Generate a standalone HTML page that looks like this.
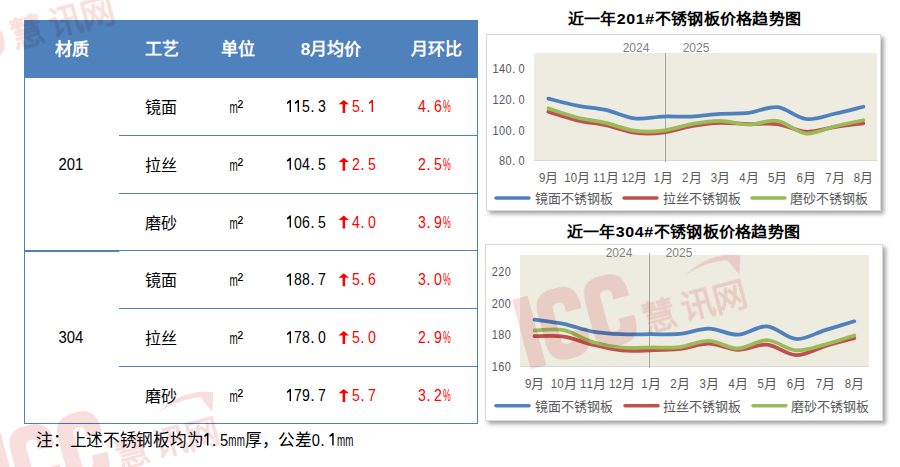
<!DOCTYPE html>
<html lang="zh-CN"><head><meta charset="utf-8">
<style>
html,body{margin:0;padding:0;background:#fff;}
body{width:900px;height:467px;overflow:hidden;position:relative;font-family:"Liberation Sans",sans-serif;color:#000;}
.a{position:absolute;left:0;top:0;}
.hd{position:absolute;left:24px;top:20px;width:454px;height:58px;background:#4f81bd;}
.ln{position:absolute;background:#4f81bd;}
.ht{position:absolute;top:39px;height:22px;line-height:22px;font-size:17px;font-weight:bold;color:#fff;text-align:center;white-space:nowrap;}
.chart{position:absolute;background:#fff;border:1px solid #d9d9d9;box-shadow:3px 3px 4px rgba(0,0,0,0.35);}
svg text{font-family:"Liberation Sans",sans-serif;}
</style></head><body>
<div class="hd"></div>
<div class="ln" style="left:24px;top:78px;width:1px;height:346px"></div>
<div class="ln" style="left:477px;top:78px;width:1px;height:346px"></div>
<div class="ln" style="left:24px;top:423px;width:454px;height:1px"></div>
<div class="ln" style="left:119px;top:135px;width:359px;height:1px"></div>
<div class="ln" style="left:119px;top:193px;width:359px;height:1px"></div>
<div class="ln" style="left:24px;top:250px;width:454px;height:1px"></div>
<div class="ln" style="left:24px;top:251px;width:95px;height:1px"></div>
<div class="ln" style="left:119px;top:308px;width:359px;height:1px"></div>
<div class="ln" style="left:119px;top:366px;width:359px;height:1px"></div>
<div class="ht" style="left:32px;width:80px">材质</div>
<div class="ht" style="left:122px;width:80px">工艺</div>
<div class="ht" style="left:198px;width:80px">单位</div>
<div class="ht" style="left:281px;width:100px">8月均价</div>
<div class="ht" style="left:386px;width:100px">月环比</div>

<div class="chart" style="left:486px;top:34px;width:393px;height:175px"></div>
<div class="chart" style="left:485px;top:244px;width:396px;height:175px"></div>

<svg class="a" style="position:absolute" width="900" height="467" viewBox="0 0 900 467">
<g fill="#000"><g fill="#000"><path d="M289.70,100.00 L291.00,100.00 L291.00,112.00 L289.60,112.00 L289.60,102.60 L287.10,103.90 L286.90,102.50 Z"/><path d="M297.70,100.00 L299.00,100.00 L299.00,112.00 L297.60,112.00 L297.60,102.60 L295.10,103.90 L294.90,102.50 Z"/><text transform="translate(302.09,112.00) scale(0.880,1)" font-size="16.00">5</text><text x="310.20" y="112.00" font-size="16.00">.</text><text transform="translate(318.09,112.00) scale(0.880,1)" font-size="16.00">3</text></g><path fill="#f00" d="M343.80,99.90 L348.90,104.30 L345.10,104.30 L345.10,112.90 L342.60,112.90 L342.60,104.30 L338.50,104.30 Z"/><g fill="#f00"><text transform="translate(352.09,112.00) scale(0.880,1)" font-size="16.00">5</text><text x="360.20" y="112.00" font-size="16.00">.</text><path d="M371.70,100.00 L373.00,100.00 L373.00,112.00 L371.60,112.00 L371.60,102.60 L369.10,103.90 L368.90,102.50 Z"/></g><g fill="#f00"><text transform="translate(418.09,112.00) scale(0.880,1)" font-size="16.00">4</text><text x="426.20" y="112.00" font-size="16.00">.</text><text transform="translate(434.09,112.00) scale(0.880,1)" font-size="16.00">6</text><text transform="translate(442.90,112.00) scale(0.551,1)" font-size="16.00">%</text></g><text x="145" y="113.00" font-size="16" font-weight="500">镜面</text><text transform="translate(229.4,113.00) scale(0.62,1)" font-size="16">m</text><text x="237.6" y="113.00" font-size="17">²</text><g fill="#000"><path d="M289.70,157.80 L291.00,157.80 L291.00,169.80 L289.60,169.80 L289.60,160.40 L287.10,161.70 L286.90,160.30 Z"/><text transform="translate(294.09,169.80) scale(0.880,1)" font-size="16.00">0</text><text transform="translate(302.09,169.80) scale(0.880,1)" font-size="16.00">4</text><text x="310.20" y="169.80" font-size="16.00">.</text><text transform="translate(318.09,169.80) scale(0.880,1)" font-size="16.00">5</text></g><path fill="#f00" d="M343.80,157.70 L348.90,162.10 L345.10,162.10 L345.10,170.70 L342.60,170.70 L342.60,162.10 L338.50,162.10 Z"/><g fill="#f00"><text transform="translate(352.09,169.80) scale(0.880,1)" font-size="16.00">2</text><text x="360.20" y="169.80" font-size="16.00">.</text><text transform="translate(368.09,169.80) scale(0.880,1)" font-size="16.00">5</text></g><g fill="#f00"><text transform="translate(418.09,169.80) scale(0.880,1)" font-size="16.00">2</text><text x="426.20" y="169.80" font-size="16.00">.</text><text transform="translate(434.09,169.80) scale(0.880,1)" font-size="16.00">5</text><text transform="translate(442.90,169.80) scale(0.551,1)" font-size="16.00">%</text></g><text x="145" y="170.80" font-size="16" font-weight="500">拉丝</text><text transform="translate(229.4,170.80) scale(0.62,1)" font-size="16">m</text><text x="237.6" y="170.80" font-size="17">²</text><g fill="#000"><path d="M289.70,215.60 L291.00,215.60 L291.00,227.60 L289.60,227.60 L289.60,218.20 L287.10,219.50 L286.90,218.10 Z"/><text transform="translate(294.09,227.60) scale(0.880,1)" font-size="16.00">0</text><text transform="translate(302.09,227.60) scale(0.880,1)" font-size="16.00">6</text><text x="310.20" y="227.60" font-size="16.00">.</text><text transform="translate(318.09,227.60) scale(0.880,1)" font-size="16.00">5</text></g><path fill="#f00" d="M343.80,215.50 L348.90,219.90 L345.10,219.90 L345.10,228.50 L342.60,228.50 L342.60,219.90 L338.50,219.90 Z"/><g fill="#f00"><text transform="translate(352.09,227.60) scale(0.880,1)" font-size="16.00">4</text><text x="360.20" y="227.60" font-size="16.00">.</text><text transform="translate(368.09,227.60) scale(0.880,1)" font-size="16.00">0</text></g><g fill="#f00"><text transform="translate(418.09,227.60) scale(0.880,1)" font-size="16.00">3</text><text x="426.20" y="227.60" font-size="16.00">.</text><text transform="translate(434.09,227.60) scale(0.880,1)" font-size="16.00">9</text><text transform="translate(442.90,227.60) scale(0.551,1)" font-size="16.00">%</text></g><text x="145" y="228.60" font-size="16" font-weight="500">磨砂</text><text transform="translate(229.4,228.60) scale(0.62,1)" font-size="16">m</text><text x="237.6" y="228.60" font-size="17">²</text><g fill="#000"><path d="M289.70,273.40 L291.00,273.40 L291.00,285.40 L289.60,285.40 L289.60,276.00 L287.10,277.30 L286.90,275.90 Z"/><text transform="translate(294.09,285.40) scale(0.880,1)" font-size="16.00">8</text><text transform="translate(302.09,285.40) scale(0.880,1)" font-size="16.00">8</text><text x="310.20" y="285.40" font-size="16.00">.</text><text transform="translate(318.09,285.40) scale(0.880,1)" font-size="16.00">7</text></g><path fill="#f00" d="M343.80,273.30 L348.90,277.70 L345.10,277.70 L345.10,286.30 L342.60,286.30 L342.60,277.70 L338.50,277.70 Z"/><g fill="#f00"><text transform="translate(352.09,285.40) scale(0.880,1)" font-size="16.00">5</text><text x="360.20" y="285.40" font-size="16.00">.</text><text transform="translate(368.09,285.40) scale(0.880,1)" font-size="16.00">6</text></g><g fill="#f00"><text transform="translate(418.09,285.40) scale(0.880,1)" font-size="16.00">3</text><text x="426.20" y="285.40" font-size="16.00">.</text><text transform="translate(434.09,285.40) scale(0.880,1)" font-size="16.00">0</text><text transform="translate(442.90,285.40) scale(0.551,1)" font-size="16.00">%</text></g><text x="145" y="286.40" font-size="16" font-weight="500">镜面</text><text transform="translate(229.4,286.40) scale(0.62,1)" font-size="16">m</text><text x="237.6" y="286.40" font-size="17">²</text><g fill="#000"><path d="M289.70,331.20 L291.00,331.20 L291.00,343.20 L289.60,343.20 L289.60,333.80 L287.10,335.10 L286.90,333.70 Z"/><text transform="translate(294.09,343.20) scale(0.880,1)" font-size="16.00">7</text><text transform="translate(302.09,343.20) scale(0.880,1)" font-size="16.00">8</text><text x="310.20" y="343.20" font-size="16.00">.</text><text transform="translate(318.09,343.20) scale(0.880,1)" font-size="16.00">0</text></g><path fill="#f00" d="M343.80,331.10 L348.90,335.50 L345.10,335.50 L345.10,344.10 L342.60,344.10 L342.60,335.50 L338.50,335.50 Z"/><g fill="#f00"><text transform="translate(352.09,343.20) scale(0.880,1)" font-size="16.00">5</text><text x="360.20" y="343.20" font-size="16.00">.</text><text transform="translate(368.09,343.20) scale(0.880,1)" font-size="16.00">0</text></g><g fill="#f00"><text transform="translate(418.09,343.20) scale(0.880,1)" font-size="16.00">2</text><text x="426.20" y="343.20" font-size="16.00">.</text><text transform="translate(434.09,343.20) scale(0.880,1)" font-size="16.00">9</text><text transform="translate(442.90,343.20) scale(0.551,1)" font-size="16.00">%</text></g><text x="145" y="344.20" font-size="16" font-weight="500">拉丝</text><text transform="translate(229.4,344.20) scale(0.62,1)" font-size="16">m</text><text x="237.6" y="344.20" font-size="17">²</text><g fill="#000"><path d="M289.70,389.00 L291.00,389.00 L291.00,401.00 L289.60,401.00 L289.60,391.60 L287.10,392.90 L286.90,391.50 Z"/><text transform="translate(294.09,401.00) scale(0.880,1)" font-size="16.00">7</text><text transform="translate(302.09,401.00) scale(0.880,1)" font-size="16.00">9</text><text x="310.20" y="401.00" font-size="16.00">.</text><text transform="translate(318.09,401.00) scale(0.880,1)" font-size="16.00">7</text></g><path fill="#f00" d="M343.80,388.90 L348.90,393.30 L345.10,393.30 L345.10,401.90 L342.60,401.90 L342.60,393.30 L338.50,393.30 Z"/><g fill="#f00"><text transform="translate(352.09,401.00) scale(0.880,1)" font-size="16.00">5</text><text x="360.20" y="401.00" font-size="16.00">.</text><text transform="translate(368.09,401.00) scale(0.880,1)" font-size="16.00">7</text></g><g fill="#f00"><text transform="translate(418.09,401.00) scale(0.880,1)" font-size="16.00">3</text><text x="426.20" y="401.00" font-size="16.00">.</text><text transform="translate(434.09,401.00) scale(0.880,1)" font-size="16.00">2</text><text transform="translate(442.90,401.00) scale(0.551,1)" font-size="16.00">%</text></g><text x="145" y="402.00" font-size="16" font-weight="500">磨砂</text><text transform="translate(229.4,402.00) scale(0.62,1)" font-size="16">m</text><text x="237.6" y="402.00" font-size="17">²</text><text transform="translate(58.6,170) scale(0.9,1)" font-size="16.5">201</text><text transform="translate(58.6,343) scale(0.9,1)" font-size="16.5">304</text></g>
<g fill="#000"><text x="36.20" y="446.00" font-size="16.7" font-weight="500">注</text><text x="52.90" y="446.00" font-size="16.7" font-weight="500">：</text><text x="69.60" y="446.00" font-size="16.7" font-weight="500">上</text><text x="86.30" y="446.00" font-size="16.7" font-weight="500">述</text><text x="103.00" y="446.00" font-size="16.7" font-weight="500">不</text><text x="119.70" y="446.00" font-size="16.7" font-weight="500">锈</text><text x="136.40" y="446.00" font-size="16.7" font-weight="500">钢</text><text x="153.10" y="446.00" font-size="16.7" font-weight="500">板</text><text x="169.80" y="446.00" font-size="16.7" font-weight="500">均</text><text x="186.50" y="446.00" font-size="16.7" font-weight="500">为</text><g fill="#000"><path d="M207.06,432.98 L208.42,432.98 L208.42,445.50 L206.96,445.50 L206.96,435.69 L204.35,437.05 L204.14,435.58 Z"/><text x="211.75" y="445.50" font-size="16.70">.</text><text transform="translate(219.99,445.50) scale(0.880,1)" font-size="16.70">5</text><text transform="translate(228.35,445.50) scale(0.588,1)" font-size="16.70">m</text><text transform="translate(236.70,445.50) scale(0.588,1)" font-size="16.70">m</text></g><text x="244.95" y="446.00" font-size="16.7" font-weight="500">厚</text><text x="261.65" y="446.00" font-size="16.7" font-weight="500">，</text><text x="278.35" y="446.00" font-size="16.7" font-weight="500">公</text><text x="295.05" y="446.00" font-size="16.7" font-weight="500">差</text><g fill="#000"><text transform="translate(311.84,445.50) scale(0.880,1)" font-size="16.70">0</text><text x="320.30" y="445.50" font-size="16.70">.</text><path d="M332.31,432.98 L333.67,432.98 L333.67,445.50 L332.21,445.50 L332.21,435.69 L329.60,437.05 L329.39,435.58 Z"/><text transform="translate(336.90,445.50) scale(0.588,1)" font-size="16.70">m</text><text transform="translate(345.25,445.50) scale(0.588,1)" font-size="16.70">m</text></g></g>
<!-- chart1 -->
<text transform="translate(684.5,23.5) scale(1,0.92)" x="0" y="0" text-anchor="middle" font-size="16" letter-spacing="0.65" font-weight="bold" fill="#000">近一年201#不锈钢板价格趋势图</text>
<rect x="534" y="53" width="343" height="107" fill="#eeece1"/>
<line x1="534" y1="160.5" x2="877" y2="160.5" stroke="#d9d9d9" stroke-width="1"/>
<line x1="665.5" y1="53" x2="665.5" y2="162" stroke="#a6a6a6" stroke-width="1"/>
<g font-size="12" fill="#7f7f7f" text-anchor="middle"><text x="636" y="52">2024</text><text x="696" y="52">2025</text></g>
<g fill="#595959"><text transform="translate(492.49,72.90) scale(0.880,1)" font-size="12.50">1</text><text transform="translate(498.99,72.90) scale(0.880,1)" font-size="12.50">4</text><text transform="translate(505.49,72.90) scale(0.880,1)" font-size="12.50">0</text><text x="512.00" y="72.90" font-size="12.50">.</text><text transform="translate(518.49,72.90) scale(0.880,1)" font-size="12.50">0</text></g><g fill="#595959"><text transform="translate(492.49,103.90) scale(0.880,1)" font-size="12.50">1</text><text transform="translate(498.99,103.90) scale(0.880,1)" font-size="12.50">2</text><text transform="translate(505.49,103.90) scale(0.880,1)" font-size="12.50">0</text><text x="512.00" y="103.90" font-size="12.50">.</text><text transform="translate(518.49,103.90) scale(0.880,1)" font-size="12.50">0</text></g><g fill="#595959"><text transform="translate(492.49,134.60) scale(0.880,1)" font-size="12.50">1</text><text transform="translate(498.99,134.60) scale(0.880,1)" font-size="12.50">0</text><text transform="translate(505.49,134.60) scale(0.880,1)" font-size="12.50">0</text><text x="512.00" y="134.60" font-size="12.50">.</text><text transform="translate(518.49,134.60) scale(0.880,1)" font-size="12.50">0</text></g><g fill="#595959"><text transform="translate(498.99,165.00) scale(0.880,1)" font-size="12.50">8</text><text transform="translate(505.49,165.00) scale(0.880,1)" font-size="12.50">0</text><text x="512.00" y="165.00" font-size="12.50">.</text><text transform="translate(518.49,165.00) scale(0.880,1)" font-size="12.50">0</text></g>
<path d="M548.40,111.78 C553.17,113.21 567.49,118.15 577.03,120.38 C586.57,122.60 596.12,123.09 605.66,125.13 C615.20,127.18 624.75,131.40 634.29,132.66 C643.83,133.91 653.38,133.76 662.92,132.66 C672.46,131.56 682.01,127.69 691.55,126.06 C701.09,124.42 710.64,123.16 720.18,122.83 C729.72,122.50 739.27,123.86 748.81,124.06 C758.35,124.26 767.90,122.78 777.44,124.06 C786.98,125.34 796.53,131.22 806.07,131.74 C815.61,132.25 825.16,128.54 834.70,127.13 C844.24,125.72 858.56,123.93 863.33,123.29" fill="none" stroke="#c0504d" stroke-width="3.75" stroke-linecap="round" stroke-linejoin="round"/>
<path d="M548.40,108.40 C553.17,109.91 567.49,115.05 577.03,117.46 C586.57,119.86 596.12,120.63 605.66,122.83 C615.20,125.03 624.75,129.36 634.29,130.66 C643.83,131.97 653.38,131.76 662.92,130.66 C672.46,129.56 682.01,125.70 691.55,124.06 C701.09,122.42 710.64,120.73 720.18,120.84 C729.72,120.94 739.27,124.67 748.81,124.67 C758.35,124.67 767.90,119.35 777.44,120.84 C786.98,122.32 796.53,132.66 806.07,133.58 C815.61,134.50 825.16,128.59 834.70,126.36 C844.24,124.14 858.56,121.25 863.33,120.22" fill="none" stroke="#9bbb59" stroke-width="3.75" stroke-linecap="round" stroke-linejoin="round"/>
<path d="M548.40,98.58 C553.17,99.76 567.49,103.75 577.03,105.64 C586.57,107.53 596.12,107.81 605.66,109.94 C615.20,112.06 624.75,117.28 634.29,118.38 C643.83,119.48 653.38,116.85 662.92,116.54 C672.46,116.23 682.01,117.00 691.55,116.54 C701.09,116.08 710.64,114.39 720.18,113.78 C729.72,113.16 739.27,113.95 748.81,112.85 C758.35,111.75 767.90,106.15 777.44,107.18 C786.98,108.20 796.53,117.89 806.07,118.99 C815.61,120.09 825.16,115.82 834.70,113.78 C844.24,111.73 858.56,107.89 863.33,106.71" fill="none" stroke="#4f81bd" stroke-width="3.75" stroke-linecap="round" stroke-linejoin="round"/>

<g font-size="13" fill="#595959"><g fill="#595959"><text transform="translate(538.92,182.00) scale(0.880,1)" font-size="13.00">9</text></g><text x="545.35" y="182.00" font-size="13" fill="#595959">月</text><g fill="#595959"><text transform="translate(564.30,182.00) scale(0.880,1)" font-size="13.00">1</text><text transform="translate(570.80,182.00) scale(0.880,1)" font-size="13.00">0</text></g><text x="577.23" y="182.00" font-size="13" fill="#595959">月</text><g fill="#595959"><text transform="translate(592.93,182.00) scale(0.880,1)" font-size="13.00">1</text><text transform="translate(599.43,182.00) scale(0.880,1)" font-size="13.00">1</text></g><text x="605.86" y="182.00" font-size="13" fill="#595959">月</text><g fill="#595959"><text transform="translate(621.56,182.00) scale(0.880,1)" font-size="13.00">1</text><text transform="translate(628.06,182.00) scale(0.880,1)" font-size="13.00">2</text></g><text x="634.49" y="182.00" font-size="13" fill="#595959">月</text><g fill="#595959"><text transform="translate(653.44,182.00) scale(0.880,1)" font-size="13.00">1</text></g><text x="659.87" y="182.00" font-size="13" fill="#595959">月</text><g fill="#595959"><text transform="translate(682.07,182.00) scale(0.880,1)" font-size="13.00">2</text></g><text x="688.50" y="182.00" font-size="13" fill="#595959">月</text><g fill="#595959"><text transform="translate(710.70,182.00) scale(0.880,1)" font-size="13.00">3</text></g><text x="717.13" y="182.00" font-size="13" fill="#595959">月</text><g fill="#595959"><text transform="translate(739.33,182.00) scale(0.880,1)" font-size="13.00">4</text></g><text x="745.76" y="182.00" font-size="13" fill="#595959">月</text><g fill="#595959"><text transform="translate(767.96,182.00) scale(0.880,1)" font-size="13.00">5</text></g><text x="774.39" y="182.00" font-size="13" fill="#595959">月</text><g fill="#595959"><text transform="translate(796.59,182.00) scale(0.880,1)" font-size="13.00">6</text></g><text x="803.02" y="182.00" font-size="13" fill="#595959">月</text><g fill="#595959"><text transform="translate(825.22,182.00) scale(0.880,1)" font-size="13.00">7</text></g><text x="831.65" y="182.00" font-size="13" fill="#595959">月</text><g fill="#595959"><text transform="translate(853.85,182.00) scale(0.880,1)" font-size="13.00">8</text></g><text x="860.28" y="182.00" font-size="13" fill="#595959">月</text></g>
<g stroke-width="3.5" stroke-linecap="round"><line x1="496" y1="198" x2="529" y2="198" stroke="#4f81bd"/><line x1="624" y1="198" x2="657" y2="198" stroke="#c0504d"/><line x1="752" y1="198" x2="785" y2="198" stroke="#9bbb59"/></g>
<g font-size="13" fill="#595959"><text x="535" y="203">镜面不锈钢板</text><text x="663" y="203">拉丝不锈钢板</text><text x="790" y="203">磨砂不锈钢板</text></g>
<!-- chart2 -->
<text transform="translate(683.5,236.5) scale(1,0.92)" x="0" y="0" text-anchor="middle" font-size="16" letter-spacing="0.65" font-weight="bold" fill="#000">近一年304#不锈钢板价格趋势图</text>
<rect x="520" y="255" width="349" height="111" fill="#eeece1"/>
<line x1="520" y1="366.5" x2="869" y2="366.5" stroke="#d9d9d9" stroke-width="1"/>
<line x1="649.5" y1="253" x2="649.5" y2="368" stroke="#a6a6a6" stroke-width="1"/>
<g font-size="12" fill="#7f7f7f" text-anchor="middle"><text x="619" y="257">2024</text><text x="679" y="257">2025</text></g>
<g fill="#595959"><text transform="translate(491.69,276.20) scale(0.880,1)" font-size="12.50">2</text><text transform="translate(498.19,276.20) scale(0.880,1)" font-size="12.50">2</text><text transform="translate(504.69,276.20) scale(0.880,1)" font-size="12.50">0</text></g><g fill="#595959"><text transform="translate(491.69,308.00) scale(0.880,1)" font-size="12.50">2</text><text transform="translate(498.19,308.00) scale(0.880,1)" font-size="12.50">0</text><text transform="translate(504.69,308.00) scale(0.880,1)" font-size="12.50">0</text></g><g fill="#595959"><text transform="translate(491.69,339.20) scale(0.880,1)" font-size="12.50">1</text><text transform="translate(498.19,339.20) scale(0.880,1)" font-size="12.50">8</text><text transform="translate(504.69,339.20) scale(0.880,1)" font-size="12.50">0</text></g><g fill="#595959"><text transform="translate(491.69,370.70) scale(0.880,1)" font-size="12.50">1</text><text transform="translate(498.19,370.70) scale(0.880,1)" font-size="12.50">6</text><text transform="translate(504.69,370.70) scale(0.880,1)" font-size="12.50">0</text></g>
<path d="M534.50,336.13 C539.35,336.21 553.88,335.19 563.57,336.61 C573.26,338.03 582.95,342.37 592.64,344.66 C602.33,346.95 612.02,349.39 621.71,350.34 C631.40,351.29 641.09,350.58 650.78,350.34 C660.47,350.10 670.16,350.03 679.85,348.92 C689.54,347.82 699.23,343.55 708.92,343.71 C718.61,343.87 728.30,349.71 737.99,349.87 C747.68,350.03 757.37,343.79 767.06,344.66 C776.75,345.53 786.44,354.84 796.13,355.08 C805.82,355.31 815.51,348.89 825.20,346.08 C834.89,343.26 849.42,339.50 854.27,338.19" fill="none" stroke="#c0504d" stroke-width="3.75" stroke-linecap="round" stroke-linejoin="round"/>
<path d="M534.50,330.45 C539.35,330.40 553.88,328.22 563.57,330.14 C573.26,332.06 582.95,339.08 592.64,341.98 C602.33,344.87 612.02,346.58 621.71,347.50 C631.40,348.42 641.09,347.58 650.78,347.50 C660.47,347.42 670.16,348.13 679.85,347.03 C689.54,345.92 699.23,340.63 708.92,340.87 C718.61,341.11 728.30,348.55 737.99,348.45 C747.68,348.34 757.37,339.92 767.06,340.24 C776.75,340.55 786.44,349.63 796.13,350.34 C805.82,351.05 815.51,346.97 825.20,344.50 C834.89,342.03 849.42,337.00 854.27,335.50" fill="none" stroke="#9bbb59" stroke-width="3.75" stroke-linecap="round" stroke-linejoin="round"/>
<path d="M534.50,319.56 C539.35,320.27 553.88,321.82 563.57,323.82 C573.26,325.82 582.95,329.82 592.64,331.56 C602.33,333.29 612.02,333.79 621.71,334.24 C631.40,334.69 641.09,334.29 650.78,334.24 C660.47,334.19 670.16,334.87 679.85,333.93 C689.54,332.98 699.23,328.43 708.92,328.56 C718.61,328.69 728.30,335.08 737.99,334.71 C747.68,334.35 757.37,325.64 767.06,326.35 C776.75,327.06 786.44,338.34 796.13,338.98 C805.82,339.61 815.51,333.08 825.20,330.14 C834.89,327.19 849.42,322.77 854.27,321.30" fill="none" stroke="#4f81bd" stroke-width="3.75" stroke-linecap="round" stroke-linejoin="round"/>

<g font-size="13" fill="#595959"><g fill="#595959"><text transform="translate(525.02,388.00) scale(0.880,1)" font-size="13.00">9</text></g><text x="531.45" y="388.00" font-size="13" fill="#595959">月</text><g fill="#595959"><text transform="translate(550.84,388.00) scale(0.880,1)" font-size="13.00">1</text><text transform="translate(557.34,388.00) scale(0.880,1)" font-size="13.00">0</text></g><text x="563.77" y="388.00" font-size="13" fill="#595959">月</text><g fill="#595959"><text transform="translate(579.91,388.00) scale(0.880,1)" font-size="13.00">1</text><text transform="translate(586.41,388.00) scale(0.880,1)" font-size="13.00">1</text></g><text x="592.84" y="388.00" font-size="13" fill="#595959">月</text><g fill="#595959"><text transform="translate(608.98,388.00) scale(0.880,1)" font-size="13.00">1</text><text transform="translate(615.48,388.00) scale(0.880,1)" font-size="13.00">2</text></g><text x="621.91" y="388.00" font-size="13" fill="#595959">月</text><g fill="#595959"><text transform="translate(641.30,388.00) scale(0.880,1)" font-size="13.00">1</text></g><text x="647.73" y="388.00" font-size="13" fill="#595959">月</text><g fill="#595959"><text transform="translate(670.37,388.00) scale(0.880,1)" font-size="13.00">2</text></g><text x="676.80" y="388.00" font-size="13" fill="#595959">月</text><g fill="#595959"><text transform="translate(699.44,388.00) scale(0.880,1)" font-size="13.00">3</text></g><text x="705.87" y="388.00" font-size="13" fill="#595959">月</text><g fill="#595959"><text transform="translate(728.51,388.00) scale(0.880,1)" font-size="13.00">4</text></g><text x="734.94" y="388.00" font-size="13" fill="#595959">月</text><g fill="#595959"><text transform="translate(757.58,388.00) scale(0.880,1)" font-size="13.00">5</text></g><text x="764.01" y="388.00" font-size="13" fill="#595959">月</text><g fill="#595959"><text transform="translate(786.65,388.00) scale(0.880,1)" font-size="13.00">6</text></g><text x="793.08" y="388.00" font-size="13" fill="#595959">月</text><g fill="#595959"><text transform="translate(815.72,388.00) scale(0.880,1)" font-size="13.00">7</text></g><text x="822.15" y="388.00" font-size="13" fill="#595959">月</text><g fill="#595959"><text transform="translate(844.79,388.00) scale(0.880,1)" font-size="13.00">8</text></g><text x="851.22" y="388.00" font-size="13" fill="#595959">月</text></g>
<g stroke-width="3.5" stroke-linecap="round"><line x1="496" y1="405.7" x2="529" y2="405.7" stroke="#4f81bd"/><line x1="625" y1="405.7" x2="658" y2="405.7" stroke="#c0504d"/><line x1="753" y1="405.7" x2="786" y2="405.7" stroke="#9bbb59"/></g>
<g font-size="13" fill="#595959"><text x="535" y="411">镜面不锈钢板</text><text x="663" y="411">拉丝不锈钢板</text><text x="791" y="411">磨砂不锈钢板</text></g>
<defs>
<g id="logo">
<rect x="0" y="0" width="16" height="72"/>
<path transform="translate(21,0)" d="M44,26 L44,20 Q44,0 24,0 L20,0 Q0,0 0,20 L0,52 Q0,72 20,72 L24,72 Q44,72 44,52 L44,46 L28,46 L28,52 Q28,57 22,57 Q16,57 16,52 L16,20 Q16,15 22,15 Q28,15 28,20 L28,26 Z"/>
<path transform="translate(70,0)" d="M44,26 L44,20 Q44,0 24,0 L20,0 Q0,0 0,20 L0,52 Q0,72 20,72 L24,72 Q44,72 44,52 L44,46 L28,46 L28,52 Q28,57 22,57 Q16,57 16,52 L16,20 Q16,15 22,15 Q28,15 28,20 L28,26 Z"/>
<g font-size="34" font-weight="900" text-anchor="middle"><text x="137.6" y="66">慧</text><text x="177.5" y="65">讯</text><text x="210.5" y="66">网</text></g>
<path d="M174,21 Q198,8 221,13 L221,18 Q199,13 174,21 Z"/><path d="M215,11 L232,16 L226,35 Z"/>
</g>
</defs>
<g fill="rgb(249,222,222)" style="mix-blend-mode:multiply">
<use href="#logo" transform="translate(512.1,299.7) rotate(-15)"/>
<use href="#logo" transform="translate(-14.9,436.7) rotate(-15)"/>
<use href="#logo" transform="translate(-120,16) rotate(-15)"/>
</g>
</svg>
</body></html>
